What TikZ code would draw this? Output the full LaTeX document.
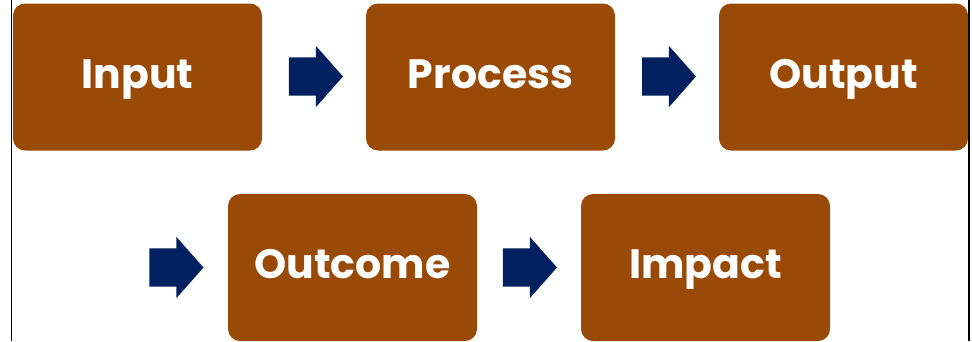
\documentclass[tikz,border=0pt]{standalone}
\usepackage{fontspec}
\newfontfamily\boxfont{Poppins}
\usetikzlibrary{shapes.arrows}

\definecolor{boxbrown}{HTML}{9A4A07}
\definecolor{arrownavy}{HTML}{002060}

\tikzset{
    stagebox/.style={rounded corners=12pt, fill=boxbrown, text=white, minimum width=249pt, minimum height=147pt, inner sep=0pt, text height=29pt, text depth=7pt, font=\boxfont\bfseries\fontsize{41}{48}\selectfont},
    flowarrow/.style={single arrow, fill=arrownavy, minimum height=54pt, inner xsep=0pt, inner ysep=19pt, single arrow head extend=11.5pt, single arrow tip angle=97},
}

\begin{document}
\begin{tikzpicture}[x=1pt, y=-1pt]

    \useasboundingbox (0, 0) rectangle (972, 341);

    % side rules
    \draw[line width=1.5pt] (11.5, 0) -- (11.5, 341);
    \draw[line width=1.5pt] (969, 0) -- (969, 341);

    % first row
    \node[stagebox] (input) at (137.5, 77) {Input};
    \node[stagebox] (process) at (490.5, 77) {Process};
    \node[stagebox] (output) at (843.5, 77) {Output};
    \node[flowarrow] (arrA) at (307.5, 76.5) {};
    \node[flowarrow] (arrB) at (660.5, 76.5) {};

    % second row
    \node[stagebox] (outcome) at (352.5, 267.5) {Outcome};
    \node[stagebox] (impact) at (705.5, 267.5) {Impact};
    \node[flowarrow] (arrC) at (168, 267.5) {};
    \node[flowarrow] (arrD) at (521.5, 267.5) {};

\end{tikzpicture}
\end{document}
